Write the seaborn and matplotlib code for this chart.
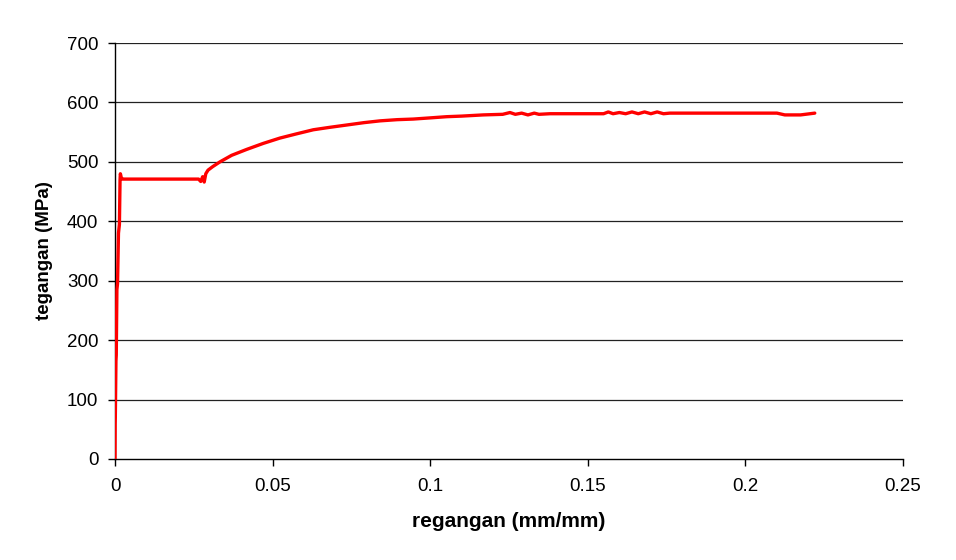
import matplotlib
matplotlib.use("Agg")
import matplotlib.pyplot as plt
import seaborn as sns
import pandas as pd

strain = [0.0, 0.00005, 0.0001, 0.0003, 0.0004, 0.0006, 0.0008, 0.0011, 0.0014,
          0.0016, 0.0017, 0.0018, 0.0020, 0.0023, 0.0150, 0.0265, 0.0272, 0.0278,
          0.0283, 0.0288, 0.0295, 0.0310, 0.0333, 0.0370, 0.0418, 0.0470, 0.0523,
          0.0575, 0.0629, 0.0680, 0.0735, 0.0790, 0.0841, 0.0895, 0.0946, 0.1000,
          0.1052, 0.1100, 0.1168, 0.1230, 0.1253, 0.1270, 0.1290, 0.1310, 0.1330,
          0.1345, 0.1380, 0.1500, 0.1550, 0.1565, 0.1580, 0.1600, 0.1620, 0.1640,
          0.1660, 0.1680, 0.1700, 0.1720, 0.1740, 0.1760, 0.1790, 0.1900, 0.2100,
          0.2125, 0.2175, 0.2220]
stress = [0, 60, 70, 165, 175, 285, 295, 380, 395,
          470, 480, 478, 473, 471, 471, 471, 467, 475,
          466, 480, 486, 492, 500, 511, 521, 531, 540,
          547, 554, 558, 562, 566, 569, 571, 572, 574,
          576, 577, 579, 580, 583, 580, 582, 579, 582,
          580, 581, 581, 581, 584, 581, 583, 581, 584,
          581, 584, 581, 584, 581, 582, 582, 582, 582,
          579, 579, 582]

x_ticks = [0, 0.05, 0.1, 0.15, 0.2, 0.25]
x_tick_labels = ["0", "0.05", "0.1", "0.15", "0.2", "0.25"]
y_ticks = [0, 100, 200, 300, 400, 500, 600, 700]

df = pd.DataFrame({"regangan": strain, "tegangan": stress})

sns.set_style("white")
plt.rcParams["font.family"] = ["Liberation Sans", "DejaVu Sans"]

fig = plt.figure(figsize=(9.56, 5.6), dpi=100)
ax = fig.add_axes([0.1203, 0.1804, 0.8243, 0.7428])

for yv in y_ticks[1:]:
    ax.axhline(yv, color="#222222", linewidth=0.9, zorder=1)

sns.lineplot(data=df, x="regangan", y="tegangan", sort=False, estimator=None,
             color="#FF0000", linewidth=2.4, ax=ax, zorder=3)

ax.set_xlim(0, 0.25)
ax.set_ylim(0, 700)
ax.set_xticks(x_ticks)
ax.set_xticklabels(x_tick_labels)
ax.set_yticks(y_ticks)
ax.tick_params(axis="both", labelsize=13.5, length=5, width=1, direction="out",
               color="#000000", labelcolor="#000000", bottom=True, left=True)
ax.tick_params(axis="x", pad=9)
ax.tick_params(axis="y", pad=7)
for s in ["top", "right"]:
    ax.spines[s].set_visible(False)
for s in ["left", "bottom"]:
    ax.spines[s].set_color("#000000")
    ax.spines[s].set_linewidth(1)

ax.set_xlabel("regangan (mm/mm)", fontsize=15, fontweight="bold", labelpad=12,
              color="#000000")
ax.set_ylabel("tegangan (MPa)", fontsize=13.5, fontweight="bold", labelpad=10,
              color="#000000")

fig.savefig("out.png", dpi=100)
